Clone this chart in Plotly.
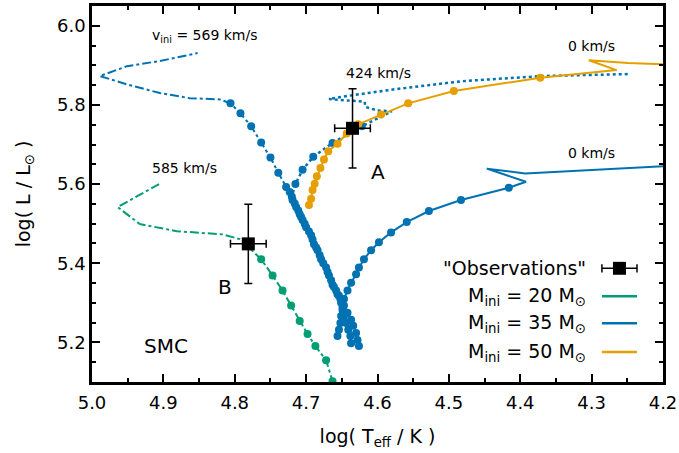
import plotly.graph_objects as go

# ---------------- data ----------------
# 20 Msun, 585 km/s (dash-dot)
m20_x = [4.906, 4.935, 4.964, 4.933, 4.881, 4.817, 4.793, 4.783, 4.763, 4.747, 4.733, 4.721, 4.709, 4.698, 4.687, 4.672, 4.663, 4.655]
m20_y = [5.600, 5.572, 5.542, 5.499, 5.481, 5.473, 5.461, 5.445, 5.410, 5.369, 5.331, 5.293, 5.254, 5.221, 5.191, 5.155, 5.102, 5.080]
m20_dot_x = [4.783, 4.763, 4.747, 4.733, 4.721, 4.709, 4.698, 4.687, 4.672, 4.663]
m20_dot_y = [5.445, 5.410, 5.369, 5.331, 5.293, 5.254, 5.221, 5.191, 5.155, 5.102]

# 35 Msun, 569 km/s (dash-dot)
m35r569_x = [4.637, 4.638, 4.641, 4.644, 4.647, 4.649, 4.651, 4.654, 4.658, 4.663, 4.668, 4.672, 4.679, 4.684, 4.689,
             4.693, 4.700, 4.705, 4.709, 4.714, 4.719, 4.723, 4.728, 4.739, 4.750, 4.763, 4.777, 4.792, 4.806,
             4.821, 4.863, 4.905, 4.951, 4.989, 4.951, 4.905, 4.852]
m35r569_y = [5.198, 5.216, 5.232, 5.249, 5.267, 5.282, 5.300, 5.318, 5.331, 5.346, 5.369, 5.389, 5.410, 5.433, 5.448,
             5.471, 5.491, 5.509, 5.524, 5.542, 5.560, 5.580, 5.593, 5.629, 5.667, 5.705, 5.746, 5.779, 5.804,
             5.814, 5.817, 5.830, 5.852, 5.873, 5.898, 5.911, 5.931]
m35r569_ndots = 29

# 35 Msun, 424 km/s (dotted)
m35r424_x = [4.626, 4.628, 4.630, 4.634, 4.637, 4.642, 4.647, 4.652, 4.656, 4.661, 4.665, 4.670, 4.676, 4.681, 4.686,
             4.691, 4.696, 4.702, 4.707, 4.711, 4.716, 4.720, 4.715, 4.705, 4.690, 4.663, 4.622,
             4.580, 4.600, 4.617, 4.618, 4.668, 4.645, 4.574, 4.482, 4.370, 4.249]
m35r424_y = [5.191, 5.206, 5.224, 5.242, 5.257, 5.275, 5.293, 5.310, 5.322, 5.340, 5.357, 5.378, 5.400, 5.420, 5.440,
             5.460, 5.480, 5.500, 5.517, 5.533, 5.551, 5.568, 5.600, 5.636, 5.669, 5.704, 5.746,
             5.784, 5.786, 5.795, 5.808, 5.815, 5.822, 5.840, 5.860, 5.873, 5.878]
m35r424_ndots = 27

# 35 Msun, 0 km/s (solid)
m35r0_x = [4.656, 4.654, 4.652, 4.651, 4.649, 4.647, 4.642, 4.637, 4.630, 4.626, 4.619, 4.609, 4.598, 4.581, 4.559,
           4.528, 4.483, 4.416, 4.392, 4.447, 4.393, 4.318, 4.207, 4.200]
m35r0_y = [5.216, 5.232, 5.249, 5.267, 5.288, 5.310, 5.331, 5.351, 5.372, 5.389, 5.410, 5.433, 5.453, 5.478, 5.504,
           5.532, 5.560, 5.591, 5.606, 5.639, 5.627, 5.634, 5.644, 5.645]
m35r0_ndots = 18

# 50 Msun, 0 km/s (solid)
m50_x = [4.696, 4.693, 4.691, 4.688, 4.685, 4.680, 4.675, 4.669, 4.656, 4.643, 4.627, 4.595, 4.557, 4.493, 4.372,
         4.265, 4.304, 4.249, 4.204, 4.200]
m50_y = [5.547, 5.563, 5.585, 5.601, 5.620, 5.641, 5.662, 5.683, 5.702, 5.728, 5.751, 5.776, 5.804, 5.835, 5.869,
         5.888, 5.913, 5.906, 5.903, 5.903]
m50_ndots = 15

# observations
obs_x = [4.635, 4.781]
obs_y = [5.741, 5.449]
obs_ex = [0.025, 0.025]
obs_ey = [0.10, 0.10]

x_ticks = [5.0, 4.9, 4.8, 4.7, 4.6, 4.5, 4.4, 4.3, 4.2]
y_ticks = [5.2, 5.4, 5.6, 5.8, 6.0]

GREEN = "#009E73"
BLUE = "#0072B2"
ORANGE = "#E69F00"
FONT = "DejaVu Sans"

fig = go.Figure()

def track(x, y, ndots, color, dash, width):
    fig.add_trace(go.Scatter(x=x, y=y, mode="lines",
                             line=dict(color=color, dash=dash, width=width),
                             showlegend=False, hoverinfo="skip"))
    fig.add_trace(go.Scatter(x=x[:ndots], y=y[:ndots], mode="markers",
                             marker=dict(color=color, size=8),
                             showlegend=False, hoverinfo="skip"))

fig.add_trace(go.Scatter(x=m20_x, y=m20_y, mode="lines",
                         line=dict(color=GREEN, dash="dashdot", width=2), showlegend=False))
fig.add_trace(go.Scatter(x=m20_dot_x, y=m20_dot_y, mode="markers",
                         marker=dict(color=GREEN, size=8), showlegend=False))
track(m35r569_x, m35r569_y, m35r569_ndots, BLUE, "dashdot", 2)
track(m35r424_x, m35r424_y, m35r424_ndots, BLUE, "dot", 2.5)
track(m35r0_x, m35r0_y, m35r0_ndots, BLUE, "solid", 2)
track(m50_x, m50_y, m50_ndots, ORANGE, "solid", 2)

fig.add_trace(go.Scatter(
    x=obs_x, y=obs_y, mode="markers",
    marker=dict(symbol="square", size=13, color="black"),
    error_x=dict(type="data", array=obs_ex, color="black", thickness=1.5, width=4),
    error_y=dict(type="data", array=obs_ey, color="black", thickness=1.5, width=4),
    showlegend=False))

# text labels
def label(x, y, text, size):
    fig.add_annotation(x=x, y=y, text=text, showarrow=False,
                       font=dict(family=FONT, size=size, color="black"),
                       xanchor="center", yanchor="middle")

label(4.842, 5.975, "v<sub>ini</sub> = 569 km/s", 14)
label(4.599, 5.881, "424 km/s", 14)
label(4.300, 5.949, "0 km/s", 14)
label(4.300, 5.679, "0 km/s", 14)
label(4.870, 5.641, "585 km/s", 14)
label(4.599, 5.631, "A", 20)
label(4.814, 5.341, "B", 20)
label(4.896, 5.192, "SMC", 20)

# manual legend (paper coordinates)
leg_rows = [0.3024, 0.2281, 0.1565, 0.0796]
leg_text = ['"Observations"', "M<sub>ini</sub> = 20 M<sub>⊙</sub>",
            "M<sub>ini</sub> = 35 M<sub>⊙</sub>", "M<sub>ini</sub> = 50 M<sub>⊙</sub>"]
leg_col = [None, GREEN, BLUE, ORANGE]
xl0, xl1 = 0.893, 0.9545
for yy, t, c in zip(leg_rows, leg_text, leg_col):
    fig.add_annotation(xref="paper", yref="paper", x=0.8687, y=yy, text=t, showarrow=False,
                       xanchor="right", yanchor="middle",
                       font=dict(family=FONT, size=19, color="black"))
    if c is not None:
        fig.add_shape(type="line", xref="paper", yref="paper", x0=xl0, x1=xl1, y0=yy, y1=yy,
                      line=dict(color=c, width=2.5))
    else:
        fig.add_shape(type="line", xref="paper", yref="paper", x0=xl0, x1=xl1, y0=yy, y1=yy,
                      line=dict(color="black", width=1.5))
        for xe in (xl0, xl1):
            fig.add_shape(type="line", xref="paper", yref="paper", x0=xe, x1=xe,
                          y0=yy - 0.011, y1=yy + 0.011, line=dict(color="black", width=1.5))
        xc = (xl0 + xl1) / 2
        fig.add_shape(type="rect", xref="paper", yref="paper",
                      x0=xc - 0.0114, x1=xc + 0.0114, y0=yy - 0.0172, y1=yy + 0.0172,
                      fillcolor="black", line=dict(width=0))

axis_common = dict(
    showgrid=False, zeroline=False, showline=True, linecolor="black", linewidth=2.5,
    mirror="allticks", ticks="inside", ticklen=8, tickwidth=1.5, tickcolor="black",
    tickfont=dict(family=FONT, size=18, color="black"), automargin=False,
)

fig.update_xaxes(range=[5.0, 4.2], tickvals=x_ticks, ticktext=[f"{v:.1f}" for v in x_ticks],
                 minor=dict(dtick=0.05, tick0=4.2, ticks="inside", ticklen=4, tickwidth=1.5, tickcolor="black"),
                 title=dict(text="log( T<sub>eff</sub> / K )", font=dict(family=FONT, size=19, color="black"),
                            standoff=18),
                 ticklabelstandoff=3,
                 **axis_common)
fig.update_yaxes(range=[5.1, 6.05], tickvals=y_ticks, ticktext=[f"{v:.1f}" for v in y_ticks],
                 minor=dict(dtick=0.05, tick0=5.1, ticks="inside", ticklen=4, tickwidth=1.5, tickcolor="black"),
                 title=dict(text="log( L / L<sub>⊙</sub> )", font=dict(family=FONT, size=19, color="black"),
                            standoff=22),
                 **axis_common)

fig.update_layout(width=679, height=453, margin=dict(l=92, r=16, t=6, b=71),
                  plot_bgcolor="white", paper_bgcolor="white",
                  font=dict(family=FONT, color="black"), showlegend=False)

fig.write_html("out.html", config={"displayModeBar": False},
               post_script="document.body.style.margin='0px';document.body.style.overflow='hidden';")
